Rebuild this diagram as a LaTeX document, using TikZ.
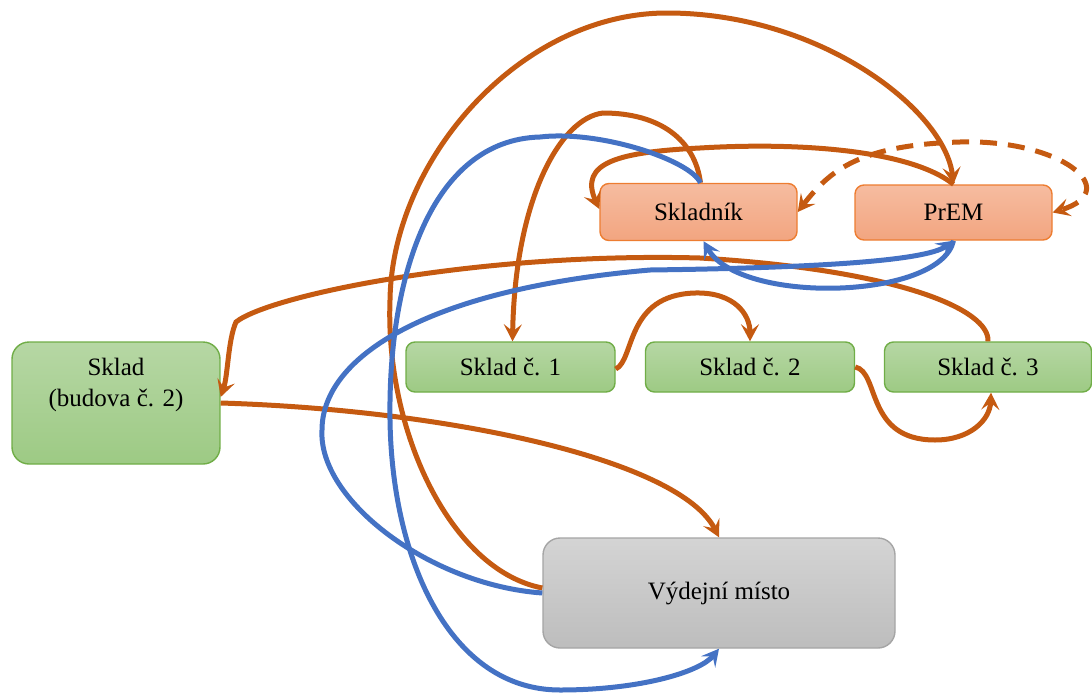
\documentclass[tikz,border=0pt]{standalone}
\usepackage{fontspec}
\setmainfont{Liberation Serif}
\newfontfamily\boxfont{Liberation Serif}
\usetikzlibrary{arrows.meta}
\definecolor{oline}{HTML}{C55A11}
\definecolor{bline}{HTML}{4472C4}
\definecolor{oborder}{HTML}{ED7D31}
\definecolor{otop}{HTML}{F6BCA0}
\definecolor{obot}{HTML}{F2A580}
\definecolor{gborder}{HTML}{70AD47}
\definecolor{gtop}{HTML}{B6D7A4}
\definecolor{gbot}{HTML}{9DCA84}
\definecolor{kborder}{HTML}{A5A5A5}
\definecolor{ktop}{HTML}{D4D4D4}
\definecolor{kbot}{HTML}{BDBDBD}
\begin{document}
\begin{tikzpicture}[x=1pt,y=-1pt,
  box/.style={rectangle, rounded corners=9pt, line width=1.4pt, inner sep=0pt,
    font=\boxfont\fontsize{25}{33}\selectfont, align=center},
  obox/.style={box, draw=oborder, top color=otop, bottom color=obot},
  gbox/.style={box, draw=gborder, top color=gtop, bottom color=gbot},
  kbox/.style={box, draw=kborder, top color=ktop, bottom color=kbot, rounded corners=17pt},
  tipx/.tip={Stealth[length=17pt,width=18pt,inset=7pt]},
  ol/.style={draw=oline, line width=5pt},
  oa/.style={ol, -{tipx}},
  od/.style={ol, dash pattern=on 17pt off 11pt, {tipx}-{tipx}},
  ba/.style={draw=bline, line width=5pt, -{tipx}},
  bl/.style={draw=bline, line width=5pt}
]
\useasboundingbox (0,0) rectangle (1092,696);

% nodes
\node[obox, minimum width=197pt, minimum height=57pt] (skl) at (698.5,212) {Skladník};
\node[obox, minimum width=197pt, minimum height=55pt] (prem) at (953.5,212.5) {PrEM};
\node[gbox, minimum width=208pt, minimum height=122pt, rounded corners=17pt] (sk) at (116,403) {Sklad\\[-2pt](budova č. 2)\\[8pt]};
\node[gbox, minimum width=209pt, minimum height=50pt] (sk1) at (510.5,367) {Sklad č. 1};
\node[gbox, minimum width=209pt, minimum height=50pt] (sk2) at (750,367) {Sklad č. 2};
\node[gbox, minimum width=207pt, minimum height=50pt] (sk3) at (988,367) {Sklad č. 3};
\node[kbox, minimum width=352pt, minimum height=110pt] (vyd) at (719,593) {Výdejní místo};

% orange connectors
\draw[oa] ([xshift=2pt]skl.north) .. controls (695,140) and (660,113) .. (603,113)
  .. controls (560,118) and (515,200) .. ([xshift=2pt]sk1.north);
\draw[oa] ([yshift=5pt]vyd.west) .. controls (450,570) and (385,430) .. (390,300)
  .. controls (392,160) and (520,13) .. (667,13)
  .. controls (820,13) and (945,110) .. (prem.north);
\draw[oa] (prem.north) .. controls (910,150) and (800,142) .. (700,148)
  .. controls (620,152) and (578,162) .. ([yshift=3pt]skl.west);
\draw[od] (skl.east) .. controls (830,170) and (860,145) .. (960,142)
  .. controls (1060,139) and (1125,190) .. (prem.east);
\draw[oa] (sk3.north) .. controls (990,310) and (900,270) .. (700,258)
  .. controls (480,252) and (270,295) .. (236,322)
  .. controls (228,340) and (228,375) .. ([yshift=6pt]sk.east);
\draw[oa] (sk.east) .. controls (450,410) and (680,460) .. (vyd.north);
\draw[oa] ([yshift=-2pt]sk1.east) .. controls (635,360) and (625,295) .. (695,293)
  .. controls (735,292) and (750,315) .. (sk2.north);
\draw[oa] (sk2.east) .. controls (880,372) and (865,440) .. (935,440)
  .. controls (970,440) and (990,420) .. ([xshift=3pt]sk3.south);

% blue connectors
\draw[ba] ([xshift=2pt]skl.north) .. controls (690,160) and (600,130) .. (540,137)
  .. controls (430,140) and (388,280) .. (390,420)
  .. controls (392,560) and (450,690) .. (560,690)
  .. controls (640,690) and (700,672) .. (vyd.south);
\draw[ba] (prem.south) .. controls (940,300) and (740,305) .. ([xshift=5pt]skl.south);
\draw[ba] (vyd.west) .. controls (430,585) and (318,500) .. (322,430)
  .. controls (322,360) and (420,290) .. (650,270)
  .. controls (800,268) and (925,262) .. (prem.south);
\end{tikzpicture}
\end{document}
